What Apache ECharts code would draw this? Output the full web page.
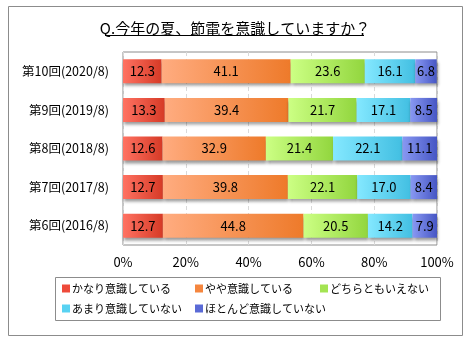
<!DOCTYPE html>
<html>
<head>
<meta charset="utf-8">
<script src="https://cdn.jsdelivr.net/npm/echarts@6/dist/echarts.min.js"></script>
<style>
  html, body { margin: 0; padding: 0; background: #fff; }
  #chart { width: 470px; height: 340px; }
</style>
</head>
<body>
<div id="chart"></div>
<script>
// Survey rounds (top to bottom)
const categories = ['第10回(2020/8)', '第9回(2019/8)', '第8回(2018/8)', '第7回(2017/8)', '第6回(2016/8)'];

// Answer shares (%) per round
const seriesNames = ['かなり意識している', 'やや意識している', 'どちらともいえない', 'あまり意識していない', 'ほとんど意識していない'];
const veryConscious     = [12.3, 13.3, 12.6, 12.7, 12.7];
const somewhatConscious = [41.1, 39.4, 32.9, 39.8, 44.8];
const neither           = [23.6, 21.7, 21.4, 22.1, 20.5];
const notMuch           = [16.1, 17.1, 22.1, 17.0, 14.2];
const hardlyAtAll       = [6.8, 8.5, 11.1, 8.4, 7.9];
const seriesValues = [veryConscious, somewhatConscious, neither, notMuch, hardlyAtAll];

// Percentage tick labels
const tickValues = [0, 20, 40, 60, 80, 100];

// Light-to-dark gradient per segment colour
const palette = [
  { light: '#ff7262', dark: '#d63a26', solid: '#ee4a3a' },
  { light: '#ffac80', dark: '#ee7a2a', solid: '#f5863e' },
  { light: '#ccff84', dark: '#92d63e', solid: '#a4e452' },
  { light: '#84e8ff', dark: '#42bfe2', solid: '#58d2f2' },
  { light: '#8898f2', dark: '#4656c4', solid: '#5a6ad6' }
];

const FONT = '"Noto Sans CJK JP", "Noto Sans", sans-serif';

const chart = echarts.init(document.getElementById('chart'), null, { renderer: 'canvas' });

const series = seriesNames.map((name, i) => ({
  name: name,
  type: 'bar',
  stack: 'total',
  barWidth: 24,
  data: seriesValues[i],
  itemStyle: {
    color: new echarts.graphic.LinearGradient(0, 0, 1, 0, [
      { offset: 0, color: palette[i].light },
      { offset: 1, color: palette[i].dark }
    ]),
    shadowColor: 'rgba(0,0,0,0.4)',
    shadowBlur: 3,
    shadowOffsetX: 1,
    shadowOffsetY: 3
  },
  label: {
    show: true,
    position: 'inside',
    color: '#000',
    fontFamily: FONT,
    fontSize: 13,
    formatter: p => p.value.toFixed(1)
  },
  emphasis: { disabled: true }
}));

// Legend laid out in columns: two rows inside a framed box
const legendSlots = [
  { left: 62, top: 283 },
  { left: 195, top: 283 },
  { left: 320, top: 283 },
  { left: 62, top: 303 },
  { left: 195, top: 303 }
];
const legends = seriesNames.map((name, i) => ({
  data: [{ name: name, itemStyle: { color: palette[i].solid } }],
  left: legendSlots[i].left,
  top: legendSlots[i].top,
  padding: 0,
  itemWidth: 8,
  itemHeight: 8,
  itemGap: 0,
  icon: 'rect',
  selectedMode: false,
  textStyle: { fontFamily: FONT, fontSize: 11, color: '#000', padding: [0, 0, 0, -3] }
}));

chart.setOption({
  animation: false,
  backgroundColor: '#fff',
  title: {
    text: 'Q.今年の夏、節電を意識していますか？',
    left: 'center',
    top: 16,
    textStyle: { fontFamily: FONT, fontSize: 15, fontWeight: 'normal', color: '#000' }
  },
  graphic: [
    {
      type: 'rect',
      shape: { x: 8.5, y: 6.5, width: 454, height: 329 },
      style: { fill: 'none', stroke: '#8c8c8c', lineWidth: 1 },
      silent: true
    },
    {
      type: 'line',
      shape: { x1: 105, y1: 35.5, x2: 364, y2: 35.5 },
      style: { stroke: '#000', lineWidth: 1 },
      silent: true
    },
    {
      type: 'rect',
      shape: { x: 55.5, y: 277.5, width: 385, height: 43 },
      style: { fill: 'none', stroke: '#8c8c8c', lineWidth: 1 },
      silent: true
    }
  ],
  legend: legends,
  grid: {
    left: 123, right: 33, top: 52, bottom: 95,
    show: true, borderColor: '#8c8c8c', borderWidth: 1
  },
  xAxis: {
    type: 'value',
    min: tickValues[0],
    max: tickValues[tickValues.length - 1],
    interval: 20,
    axisLine: { show: false },
    axisTick: { show: false },
    splitLine: { show: true, lineStyle: { color: '#d9d9d9', type: [4, 3] } },
    axisLabel: {
      margin: 11,
      fontFamily: FONT, fontSize: 13, color: '#000',
      formatter: v => v + '%'
    }
  },
  yAxis: {
    type: 'category',
    data: categories,
    inverse: true,
    axisLine: { show: false },
    axisTick: { show: false },
    axisLabel: { margin: 14, fontFamily: FONT, fontSize: 12.5, color: '#000' }
  },
  series: series
});
</script>
</body>
</html>
